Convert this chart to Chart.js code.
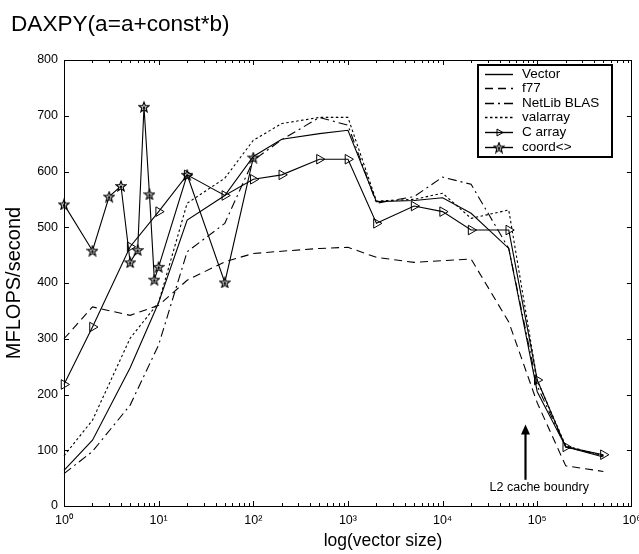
<!DOCTYPE html>
<html><head><meta charset="utf-8">
<script src="https://cdn.jsdelivr.net/npm/chart.js@4/dist/chart.umd.min.js"></script>
<style>html,body{margin:0;padding:0;background:#fff}#wrap{width:639px;height:554px}</style>
</head><body><div id="wrap"><canvas id="c" width="639" height="554"></canvas></div>
<script>
const FONT = '"Liberation Sans", Arial, Helvetica, sans-serif';
const titleText = 'DAXPY(a=a+const*b)';
const xTitle = 'log(vector size)';
const yTitle = 'MFLOPS/second';

const sizes = [1, 2, 5, 10, 20, 50, 100, 200, 500, 1000, 2000, 5000, 10000, 20000, 50000, 100000, 200000, 500000];
const vectorV   = [64, 118, 248, 365, 513, 557, 627, 658, 668, 674, 546, 548, 553, 525, 462, 205, 106, 88];
const f77V      = [300, 357, 342, 360, 405, 438, 453, 457, 462, 464, 446, 437, 440, 443, 330, 185, 72, 62];
const netlibV   = [58, 98, 181, 289, 456, 507, 620, 657, 697, 683, 543, 555, 590, 577, 462, 215, 106, 90];
const valarrayV = [90, 154, 301, 365, 543, 588, 656, 686, 697, 697, 547, 550, 561, 516, 531, 225, 108, 90];
const carrayV   = [218, 321, 465, 528, 594, 557, 586, 594, 622, 622, 507, 538, 528, 495, 495, 226, 106, 92];
const coordSizes = [1, 2, 3, 4, 5, 6, 7, 8, 9, 10, 20, 50, 100];
const coordV     = [541, 458, 555, 574, 437, 459, 716, 559, 406, 429, 594, 401, 625];

const seriesNames = ['Vector', 'f77', 'NetLib BLAS', 'valarray', 'C array', 'coord<>'];
const xTicks = [1, 10, 100, 1000, 10000, 100000, 1000000];
const xTickLabels = ['10\u2070', '10\u00b9', '10\u00b2', '10\u00b3', '10\u2074', '10\u2075', '10\u2076'];
const yTicks = [0, 100, 200, 300, 400, 500, 600, 700, 800];
const l2Arrow = { x: 75000, from: 47, to: 146 };
const l2Label = { text: 'L2 cache boundry', x: 105000, y: 33 };

function pts(xs, ys) { return xs.map((x, i) => ({ x: x, y: ys[i] })); }

function makeStar() {
  const c = document.createElement('canvas');
  c.width = 12; c.height = 12;
  const g = c.getContext('2d');
  g.beginPath();
  for (let i = 0; i < 10; i++) {
    const r = i % 2 ? 2.2 : 5.2;
    const a = -Math.PI / 2 + i * Math.PI / 5;
    const px = 6 + r * Math.cos(a), py = 6.5 + r * Math.sin(a);
    if (i) g.lineTo(px, py); else g.moveTo(px, py);
  }
  g.closePath();
  g.fillStyle = 'rgba(255,255,255,0.7)';
  g.fill();
  g.strokeStyle = '#000';
  g.lineWidth = 1.2;
  g.stroke();
  g.fillStyle = '#000';
  g.beginPath(); g.arc(6, 6.8, 1.2, 0, Math.PI * 2); g.fill();
  return c;
}
const starImg = makeStar();

const base = { borderColor: '#000', backgroundColor: 'rgba(0,0,0,0)', borderWidth: 1.1, pointRadius: 0, tension: 0, clip: 10 };
const datasets = [
  Object.assign({}, base, { label: seriesNames[0], data: pts(sizes, vectorV) }),
  Object.assign({}, base, { label: seriesNames[1], data: pts(sizes, f77V), borderDash: [8, 5] }),
  Object.assign({}, base, { label: seriesNames[2], data: pts(sizes, netlibV), borderDash: [9, 4, 2, 4] }),
  Object.assign({}, base, { label: seriesNames[3], data: pts(sizes, valarrayV), borderDash: [2.5, 2.5] }),
  Object.assign({}, base, { label: seriesNames[4], data: pts(sizes, carrayV), pointStyle: 'triangle', pointRotation: 90, pointRadius: 5.5, pointBorderWidth: 1, pointBorderColor: '#000', pointBackgroundColor: 'rgba(0,0,0,0)' }),
  Object.assign({}, base, { label: seriesNames[5], data: pts(coordSizes, coordV), pointStyle: starImg, pointRadius: 6 })
];

const decor = {
  id: 'decor',
  afterDraw(chart) {
    const ctx = chart.ctx, a = chart.chartArea, xs = chart.scales.x, ys = chart.scales.y;
    ctx.save();
    // title
    ctx.fillStyle = '#000';
    ctx.font = '22.6px ' + FONT;
    ctx.textAlign = 'left'; ctx.textBaseline = 'alphabetic';
    ctx.fillText(titleText, 11, 31);
    // x axis title
    ctx.font = '17.5px ' + FONT;
    ctx.textAlign = 'center'; ctx.textBaseline = 'middle';
    ctx.fillText(xTitle, 383, 541);
    // frame
    ctx.strokeStyle = '#000'; ctx.lineWidth = 1; ctx.setLineDash([]);
    ctx.strokeRect(Math.round(a.left) + 0.5, Math.round(a.top) + 0.5, Math.round(a.right - a.left) - 1, Math.round(a.bottom - a.top));
    // x ticks (major + minor), top and bottom, inward
    ctx.beginPath();
    for (let k = 0; k < 6; k++) {
      for (let m = 1; m <= 9; m++) {
        const v = m * Math.pow(10, k);
        const px = Math.round(xs.getPixelForValue(v)) + 0.5;
        const len = m === 1 ? 5 : 3;
        ctx.moveTo(px, a.bottom); ctx.lineTo(px, a.bottom - len);
        ctx.moveTo(px, a.top); ctx.lineTo(px, a.top + len);
      }
    }
    yTicks.forEach(v => {
      const py = Math.round(ys.getPixelForValue(v)) + 0.5;
      ctx.moveTo(a.left, py); ctx.lineTo(a.left + 5, py);
      ctx.moveTo(a.right, py); ctx.lineTo(a.right - 5, py);
    });
    ctx.stroke();
    // legend
    const lx = 478, ly = 65, lw = 134, lh = 92;
    ctx.fillStyle = '#fff';
    ctx.fillRect(lx, ly, lw, lh);
    ctx.lineWidth = 2;
    ctx.strokeRect(lx, ly, lw, lh);
    ctx.font = '13.5px ' + FONT;
    ctx.textAlign = 'left';
    ctx.textBaseline = 'middle';
    chart.data.datasets.forEach((ds, i) => {
      const y = Math.round(ly + 8.5 + i * 14.6) + 0.5;
      ctx.strokeStyle = '#000';
      ctx.lineWidth = 1.4;
      ctx.setLineDash(ds.borderDash || []);
      ctx.beginPath(); ctx.moveTo(485, y); ctx.lineTo(513, y); ctx.stroke();
      ctx.setLineDash([]);
      if (ds.pointStyle) {
        ctx.fillStyle = 'rgba(0,0,0,0)';
        ctx.lineWidth = 1;
        Chart.helpers.drawPoint(ctx, { pointStyle: ds.pointStyle, rotation: ds.pointRotation || 0, radius: 4, borderWidth: 1 }, 499, y);
      }
      ctx.fillStyle = '#000';
      ctx.fillText(ds.label, 522, y);
    });
    // L2 annotation
    const ax = Math.round(xs.getPixelForValue(l2Arrow.x)) + 0.5;
    const yb = ys.getPixelForValue(l2Arrow.from), yt = ys.getPixelForValue(l2Arrow.to);
    ctx.strokeStyle = '#000'; ctx.lineWidth = 2.2;
    ctx.beginPath(); ctx.moveTo(ax, yb); ctx.lineTo(ax, yt + 8); ctx.stroke();
    ctx.fillStyle = '#000';
    ctx.beginPath(); ctx.moveTo(ax, yt); ctx.lineTo(ax - 4.5, yt + 10); ctx.lineTo(ax + 4.5, yt + 10); ctx.closePath(); ctx.fill();
    ctx.font = '12.5px ' + FONT; ctx.textAlign = 'center'; ctx.textBaseline = 'middle';
    ctx.fillText(l2Label.text, xs.getPixelForValue(l2Label.x), ys.getPixelForValue(l2Label.y));
    ctx.restore();
  }
};

new Chart(document.getElementById('c'), {
  type: 'line',
  data: { datasets: datasets },
  options: {
    responsive: false, animation: false, devicePixelRatio: 1,
    layout: { padding: { top: 60, right: 7, left: 0, bottom: 0 } },
    plugins: { legend: { display: false }, title: { display: false }, tooltip: { enabled: false } },
    scales: {
      x: {
        type: 'logarithmic', min: 1, max: 1000000,
        afterBuildTicks: s => { s.ticks = xTicks.map(v => ({ value: v })); },
        afterFit: s => { s.height = 48; s.paddingLeft = 0; s.paddingRight = 0; },
        grid: { display: false, drawTicks: false }, border: { display: false },
        ticks: { autoSkip: false, maxRotation: 0, padding: 7, color: '#000', font: { family: FONT, size: 12.5 }, callback: (v, i) => xTickLabels[i] },
        title: { display: false, text: xTitle }
      },
      y: {
        min: 0, max: 800,
        afterBuildTicks: s => { s.ticks = yTicks.map(v => ({ value: v })); },
        afterFit: s => { s.width = 64; s.paddingTop = 0; s.paddingBottom = 0; },
        grid: { display: false, drawTicks: false }, border: { display: false },
        ticks: { padding: 6, color: '#000', font: { family: FONT, size: 12.5 }, callback: (v, i) => String(yTicks[i]) },
        title: { display: true, text: yTitle, color: '#000', font: { family: FONT, size: 20 }, padding: { top: 2, bottom: 0 } }
      }
    }
  },
  plugins: [decor]
});
</script>
</body></html>
